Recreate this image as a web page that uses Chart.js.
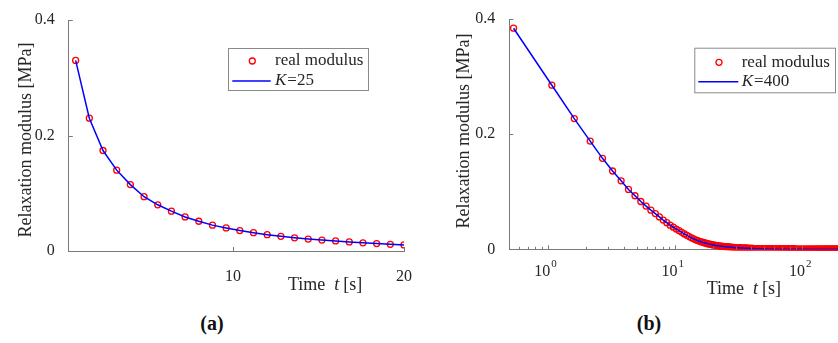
<!DOCTYPE html>
<html>
<head>
<meta charset="utf-8">
<script src="https://cdn.jsdelivr.net/npm/chart.js@4.4.0/dist/chart.umd.min.js"></script>
<style>
  html,body{margin:0;padding:0;background:#fff;overflow:hidden;width:838px;height:343px;}
  .panel{position:absolute;top:0;}
  #boxA{left:0;width:420px;height:300px;}
  #boxB{left:420px;width:430px;height:300px;}
  .cap{position:absolute;top:312px;width:60px;text-align:center;font:bold 20px "Liberation Serif",serif;color:#111;}
</style>
</head>
<body>
<div class="panel" id="boxA"><canvas id="chartA" width="420" height="300"></canvas></div>
<div class="panel" id="boxB"><canvas id="chartB" width="430" height="300"></canvas></div>
<div class="cap" style="left:182px">(a)</div>
<div class="cap" style="left:619px">(b)</div>
<script>
// panel (a): 25 samples, linear time axis
const timeA=[0.8,1.6,2.4,3.2,4.0,4.8,5.6,6.4,7.2,8.0,8.8,9.6,10.4,11.2,12.0,12.8,13.6,14.4,15.2,16.0,16.8,17.6,18.4,19.2,20.0]
const realA=[0.330,0.230,0.174,0.140,0.115,0.094,0.080,0.069,0.059,0.0515,0.0448,0.0400,0.0354,0.0317,0.0283,0.0254,0.0228,0.0207,0.0189,0.0174,0.0157,0.0141,0.0128,0.0116,0.0105]
const fitA=[0.330,0.230,0.174,0.140,0.115,0.094,0.080,0.069,0.059,0.0515,0.0448,0.0400,0.0354,0.0317,0.0283,0.0254,0.0228,0.0207,0.0189,0.0174,0.0157,0.0141,0.0128,0.0116,0.0105]
const yTicksA=[0,0.2,0.4]
const xTicksA=[10,20]

// panel (b): 400 samples on a uniform time grid, log time axis
const stepB=0.54
const realB=[
0.384,0.285,0.227,0.188,0.158,0.136,0.119,0.104,0.093,0.083,
0.075,0.068,0.062,0.0562,0.0508,0.0462,0.0419,0.0384,0.0352,0.0323,
0.0294,0.0267,0.0243,0.0221,0.0200,0.0182,0.0165,0.0151,0.0139,0.0128,
0.0118,0.0109,0.0101,0.0094,0.0088,0.0082,0.0076,0.0072,0.0067,0.0063,
0.0060,0.0056,0.0053,0.0051,0.0048,0.0046,0.0044,0.0041,0.0040,0.0038,
0.0036,0.0034,0.0033,0.0032,0.0030,0.0029,0.0028,0.0027,0.0026,0.0025,
0.0024,0.0023,0.0022,0.0021,0.0020,0.0020,0.0019,0.0018,0.0018,0.0017,
0.0016,0.0016,0.0015,0.0015,0.0014,0.0014,0.0013,0.0013,0.0012,0.0012,
0.0011,0.0011,0.0011,0.0010,0.0010,0.0009,0.0009,0.0009,0.0008,0.0008,
0.0008,0.0008,0.0007,0.0007,0.0007,0.0006,0.0006,0.0006,0.0006,0.0006,
0.0005,0.0005,0.0005,0.0005,0.0005,0.0004,0.0004,0.0004,0.0004,0.0004,
0.0004,0.0004,0.0003,0.0003,0.0003,0.0003,0.0003,0.0003,0.0003,0.0003,
0.0003,0.0002,0.0002,0.0002,0.0002,0.0002,0.0002,0.0002,0.0002,0.0002,
0.0002,0.0002,0.0002,0.0002,0.0001,0.0001,0.0001,0.0001,0.0001,0.0001,
0.0001,0.0001,0.0001,0.0001,0.0001,0.0001,0.0001,0.0001,0.0001,0.0001,
0.0001,0.0001,0.0001,0.0001,0.0001,0.0001,0.0001,0.0001,0.0001,0.0001,
0.0001,0.0001,0.0001,0.0001,0,0,0,0,0,0,
0,0,0,0,0,0,0,0,0,0,
0,0,0,0,0,0,0,0,0,0,
0,0,0,0,0,0,0,0,0,0,
0,0,0,0,0,0,0,0,0,0,
0,0,0,0,0,0,0,0,0,0,
0,0,0,0,0,0,0,0,0,0,
0,0,0,0,0,0,0,0,0,0,
0,0,0,0,0,0,0,0,0,0,
0,0,0,0,0,0,0,0,0,0,
0,0,0,0,0,0,0,0,0,0,
0,0,0,0,0,0,0,0,0,0,
0,0,0,0,0,0,0,0,0,0,
0,0,0,0,0,0,0,0,0,0,
0,0,0,0,0,0,0,0,0,0,
0,0,0,0,0,0,0,0,0,0,
0,0,0,0,0,0,0,0,0,0,
0,0,0,0,0,0,0,0,0,0,
0,0,0,0,0,0,0,0,0,0,
0,0,0,0,0,0,0,0,0,0,
0,0,0,0,0,0,0,0,0,0,
0,0,0,0,0,0,0,0,0,0,
0,0,0,0,0,0,0,0,0,0
]
const yTicksB=[0,0.2,0.4]
const decadesB=[1,10,100]
const minorB=[0.5,0.6,0.7,0.8,0.9,2,3,4,5,6,7,8,9,20,30,40,50,60,70,80,90,200]

const FONT='"Liberation Serif", serif'
const TXT='#262626'
const AXIS='#7a7a7a'
const RED='#ff0000'
const BLUE='#0000ff'
const MARK_R=3
const MARK_W=1.3

function decoPlugin(cfg){
  return {
    id:'deco',
    afterDraw(chart){
      const ctx=chart.ctx, xs=chart.scales.x, ys=chart.scales.y, area=chart.chartArea
      ctx.save()
      // inward tick marks
      ctx.strokeStyle=AXIS; ctx.lineWidth=1
      ctx.beginPath()
      cfg.yTicks.forEach(v=>{
        const y=Math.round(ys.getPixelForValue(v))+0.5
        ctx.moveTo(area.left,y); ctx.lineTo(area.left+4,y)
      })
      cfg.xTicks.forEach(v=>{
        const x=Math.round(xs.getPixelForValue(v))+0.5
        ctx.moveTo(x,area.bottom); ctx.lineTo(x,area.bottom-4)
      })
      ;(cfg.xMinor||[]).forEach(v=>{
        const x=Math.round(xs.getPixelForValue(v))+0.5
        ctx.moveTo(x,area.bottom); ctx.lineTo(x,area.bottom-2.5)
      })
      ctx.stroke()

      ctx.fillStyle=TXT
      // log tick labels 10^n
      if(cfg.logLabels){
        cfg.logLabels.forEach(v=>{
          const x=xs.getPixelForValue(v)
          const e=String(Math.round(Math.log10(v)))
          ctx.font='16px '+FONT
          const w1=ctx.measureText('10').width
          ctx.font='11px '+FONT
          const w2=ctx.measureText(e).width
          const x0=x-2-(w1+w2+1)/2
          ctx.textAlign='left'; ctx.textBaseline='alphabetic'
          ctx.font='16px '+FONT
          ctx.fillText('10',x0,area.bottom+27)
          ctx.font='11px '+FONT
          ctx.fillText(e,x0+w1+1,area.bottom+18)
        })
      }

      // y title
      ctx.save()
      ctx.translate(cfg.yTitle[0],cfg.yTitle[1])
      ctx.rotate(-Math.PI/2)
      ctx.font='18px '+FONT
      ctx.textAlign='center'; ctx.textBaseline='middle'
      ctx.fillText('Relaxation modulus [MPa]',0,0)
      ctx.restore()

      // x title "Time  t [s]"
      ctx.textAlign='left'; ctx.textBaseline='middle'
      let tx=cfg.xTitle[0]; const ty=cfg.xTitle[1]
      ctx.font='18px '+FONT
      ctx.fillText('Time',tx,ty); tx+=ctx.measureText('Time').width+9
      ctx.font='italic 18px '+FONT
      ctx.fillText('t',tx,ty); tx+=ctx.measureText('t').width+4
      ctx.font='18px '+FONT
      ctx.fillText('[s]',tx,ty)

      // legend
      const L=cfg.legend
      ctx.fillStyle='#fff'
      ctx.fillRect(L.x,L.y,L.w,L.h)
      ctx.strokeStyle='#8a8a8a'; ctx.lineWidth=1
      ctx.strokeRect(L.x+0.5,L.y+0.5,L.w,L.h)
      ctx.beginPath(); ctx.arc(L.mx,L.r1,MARK_R,0,Math.PI*2)
      ctx.strokeStyle=RED; ctx.lineWidth=MARK_W; ctx.stroke()
      ctx.beginPath(); ctx.moveTo(L.l0,L.r2); ctx.lineTo(L.l1,L.r2)
      ctx.strokeStyle=BLUE; ctx.lineWidth=1.5; ctx.stroke()
      ctx.fillStyle=TXT; ctx.textBaseline='middle'; ctx.textAlign='left'
      ctx.font='17px '+FONT
      ctx.fillText('real modulus',L.tx,L.r1)
      ctx.font='italic 17px '+FONT
      ctx.fillText('K',L.tx,L.r2)
      const kw=ctx.measureText('K').width
      ctx.font='17px '+FONT
      ctx.fillText('='+cfg.K,L.tx+kw+1,L.r2)
      ctx.restore()
    }
  }
}

function yScale(width){
  return {
    type:'linear', min:0, max:0.4,
    afterBuildTicks:s=>{s.ticks=yTicksA.map(v=>({value:v}))},
    afterFit:s=>{s.width=width},
    grid:{display:false},
    border:{display:true,color:AXIS,width:1},
    ticks:{padding:6,color:TXT,font:{family:FONT,size:16},callback:v=>v===0?'0':v.toFixed(1)}
  }
}

// chart (a)
new Chart(document.getElementById('chartA'),{
  type:'line',
  data:{datasets:[
    {label:'K=25',data:timeA.map((t,i)=>({x:t,y:fitA[i]})),borderColor:BLUE,borderWidth:1.5,pointRadius:0,tension:0,fill:false,order:0},
    {label:'real modulus',data:timeA.map((t,i)=>({x:t,y:realA[i]})),showLine:false,pointRadius:MARK_R,pointBorderWidth:MARK_W,
     pointBorderColor:RED,pointBackgroundColor:'rgba(0,0,0,0)',order:1}
  ]},
  options:{
    responsive:false,animation:false,events:[],
    layout:{padding:{top:20,right:11.5,left:0,bottom:0}},
    plugins:{legend:{display:false},tooltip:{enabled:false}},
    scales:{
      x:{type:'linear',min:0.4,max:20,
        afterBuildTicks:s=>{s.ticks=xTicksA.map(v=>({value:v}))},
        afterFit:s=>{s.height=49},
        grid:{display:false},
        border:{display:true,color:AXIS,width:1},
        ticks:{padding:8,color:TXT,maxRotation:0,autoSkip:false,font:{family:FONT,size:16}}},
      y:yScale(68.8)
    }
  },
  plugins:[decoPlugin({
    yTicks:yTicksA,xTicks:xTicksA,K:25,
    yTitle:[26,140],xTitle:[288,285],
    legend:{x:228,y:48,w:140,h:42,mx:252.3,r1:61,r2:81,l0:232.3,l1:270.7,tx:275}
  })]
})

// chart (b)
const pointsB=realB.map((v,i)=>({x:(i+1)*stepB,y:v}))
new Chart(document.getElementById('chartB'),{
  type:'line',
  data:{datasets:[
    {label:'K=400',data:pointsB,borderColor:BLUE,borderWidth:1.5,pointRadius:0,tension:0,fill:false,order:0},
    {label:'real modulus',data:pointsB,showLine:false,pointRadius:MARK_R,pointBorderWidth:MARK_W,
     pointBorderColor:RED,pointBackgroundColor:'rgba(0,0,0,0)',order:1,
     clip:{left:6,top:6,right:6,bottom:1}}
  ]},
  options:{
    responsive:false,animation:false,events:[],
    layout:{padding:{top:19,right:4.8,left:0,bottom:0}},
    plugins:{legend:{display:false},tooltip:{enabled:false}},
    scales:{
      x:{type:'logarithmic',min:0.5,max:216,
        afterFit:s=>{s.height=50.7},
        grid:{display:false},
        border:{display:true,color:AXIS,width:1},
        ticks:{display:false}},
      y:yScale(89.3)
    }
  },
  plugins:[decoPlugin({
    yTicks:yTicksB,xTicks:decadesB,xMinor:minorB,logLabels:decadesB,K:400,
    yTitle:[44,131],xTitle:[286.7,289],
    legend:{x:274.3,y:47.7,w:140.7,h:44.6,mx:299,r1:62.3,r2:81.7,l0:278.3,l1:318.3,tx:321.7}
  })]
})
</script>
</body>
</html>
